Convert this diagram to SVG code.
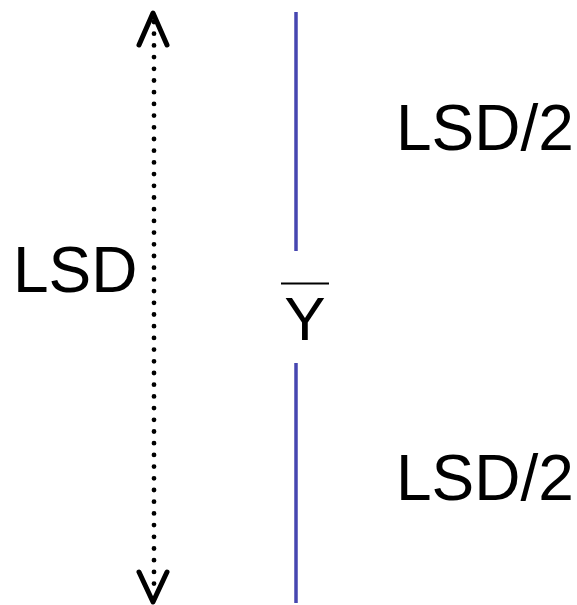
<svg xmlns="http://www.w3.org/2000/svg" width="577" height="605" viewBox="0 0 577 605">
  <style>
    .lbl { font-family: "Liberation Sans", Arial, sans-serif; font-size: 64px; fill: #000; }
    .mean { stroke: #4646b0; stroke-width: 3.5; fill: none; }
    .span { stroke: #000; stroke-width: 4.8; stroke-linecap: round; stroke-dasharray: 0 11.7; fill: none; }
    .head { stroke: #000; stroke-width: 5; stroke-linecap: round; stroke-linejoin: round; fill: none; }
  </style>
  <rect width="577" height="605" fill="#fff"/>
  <g id="connectors">
    <line class="span" x1="154" y1="22" x2="154" y2="590"/>
    <polyline class="head" points="139,45 153,13 167,45"/>
    <polyline class="head" points="139,572 153,602 167,572"/>
  </g>
  <g id="mean-line">
    <line class="mean" x1="296" y1="12" x2="296" y2="251"/>
    <line class="mean" x1="296" y1="363" x2="296" y2="603"/>
  </g>
  <g id="mean-label">
    <line x1="281" y1="283.5" x2="329" y2="283.5" stroke="#000" stroke-width="2"/>
    <text class="lbl" x="305" y="340" text-anchor="middle" style="font-size:62px">Y</text>
  </g>
  <g id="lsd">
    <text class="lbl" x="13" y="292">LSD</text>
  </g>
  <g id="half-upper">
    <text class="lbl" x="396" y="150">LSD/2</text>
  </g>
  <g id="half-lower">
    <text class="lbl" x="396" y="500">LSD/2</text>
  </g>
</svg>
